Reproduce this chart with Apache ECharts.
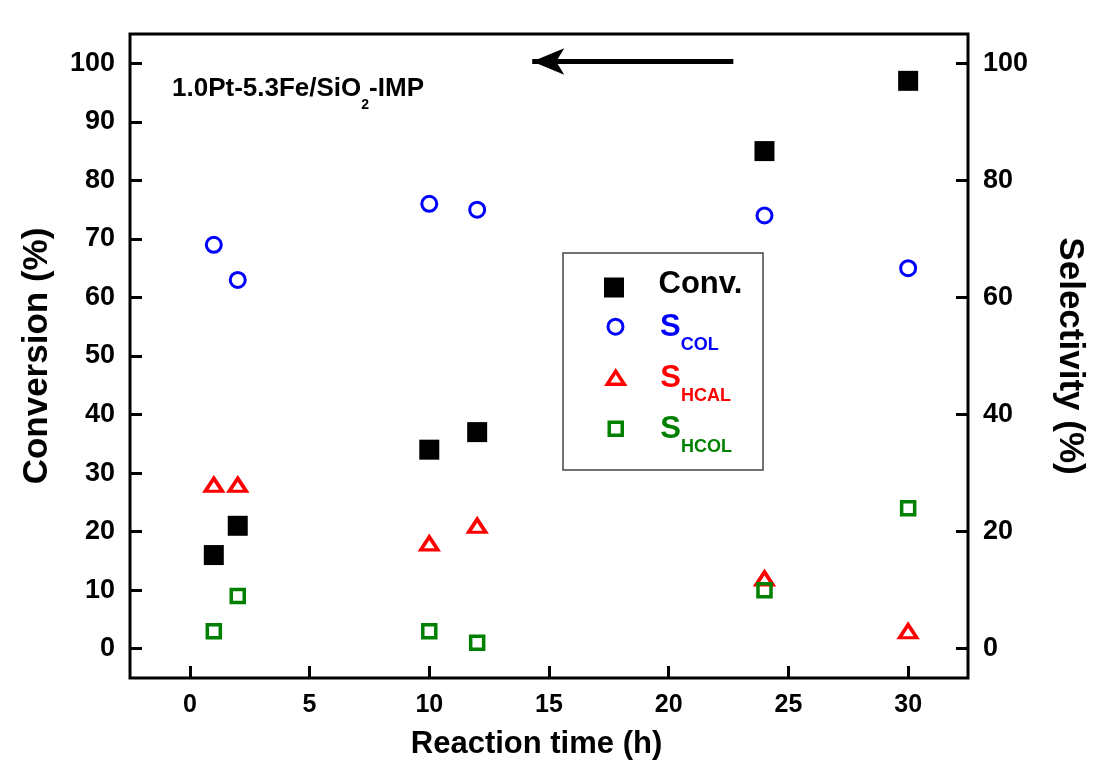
<!DOCTYPE html>
<html>
<head>
<meta charset="utf-8">
<script src="https://cdn.jsdelivr.net/npm/echarts@6/dist/echarts.min.js"></script>
<style>html,body{margin:0;padding:0;background:#fff;}#c{width:1100px;height:776px;}</style>
</head>
<body>
<div id="c"></div>
<script>
// ---- data ----
const timeH = [1, 2, 10, 12, 24, 30];
const conv = [16, 21, 34, 37, 85, 97];
const sCOL = [69, 63, 76, 75, 74, 65];
const sHCAL = [28, 28, 18, 21, 12, 3];
const sHCOL = [3, 9, 3, 1, 10, 24];
const xTicks = [0, 5, 10, 15, 20, 25, 30];
const yLeftTicks = [0, 10, 20, 30, 40, 50, 60, 70, 80, 90, 100];
const yRightTicks = [0, 20, 40, 60, 80, 100];
const arrowFrom = [22.7, 100.3];
const arrowTo = [14.3, 100.3];

const FONT = "'Liberation Sans', Arial, sans-serif";
const pairs = (ys) => timeH.map((t, i) => [t, ys[i]]);

const chart = echarts.init(document.getElementById('c'), null, {renderer: 'canvas'});

function subRich(color, padL) {
  return {
    s: {fontSize: 31, fontWeight: 'bold', fontFamily: FONT, color: color, verticalAlign: 'bottom', padding: [12, 0, 11, padL]},
    sub: {fontSize: 18, fontWeight: 'bold', fontFamily: FONT, color: color, verticalAlign: 'bottom'}
  };
}

const tickStyle = {color: '#000', width: 3};

const option = {
  animation: false,
  backgroundColor: '#fff',
  title: {
    left: 172, top: 76, padding: 0,
    text: '{a|1.0Pt-5.3Fe/SiO}{b|2}{a|-IMP}',
    textStyle: {
      rich: {
        a: {fontSize: 26, fontWeight: 'bold', fontFamily: FONT, color: '#000', verticalAlign: 'bottom', padding: [0, 0, 10, 0]},
        b: {fontSize: 14, fontWeight: 'bold', fontFamily: FONT, color: '#000', verticalAlign: 'bottom'}
      }
    }
  },
  grid: {left: 130, right: 132, top: 34, bottom: 98, show: true, borderColor: '#000', borderWidth: 3, backgroundColor: 'transparent'},
  xAxis: {
    type: 'value', min: -2.5, max: 32.5,
    name: 'Reaction time (h)', nameLocation: 'middle', nameGap: 51,
    nameTextStyle: {fontSize: 31, fontWeight: 'bold', fontFamily: FONT, color: '#000', padding: [0, 25, 0, 0]},
    axisLine: {show: false, onZero: false},
    splitLine: {show: false},
    axisTick: {show: true, inside: true, length: 12, lineStyle: tickStyle, customValues: xTicks},
    axisLabel: {fontSize: 25, fontWeight: 'bold', fontFamily: FONT, color: '#000', margin: 15, customValues: xTicks}
  },
  yAxis: [
    {
      type: 'value', min: -5, max: 105, position: 'left',
      name: 'Conversion (%)', nameLocation: 'middle', nameGap: 75,
      nameTextStyle: {fontSize: 35, fontWeight: 'bold', fontFamily: FONT, color: '#000'},
      axisLine: {show: false, onZero: false}, splitLine: {show: false},
      axisTick: {show: true, inside: true, length: 12, lineStyle: tickStyle, customValues: yLeftTicks},
      axisLabel: {fontSize: 27, fontWeight: 'bold', fontFamily: FONT, color: '#000', margin: 15, customValues: yLeftTicks}
    },
    {
      type: 'value', min: -5, max: 105, position: 'right',
      name: 'Selectivity (%)', nameLocation: 'middle', nameGap: 84, nameRotate: -90,
      nameTextStyle: {fontSize: 35, fontWeight: 'bold', fontFamily: FONT, color: '#000'},
      axisLine: {show: false, onZero: false}, splitLine: {show: false},
      axisTick: {show: true, inside: true, length: 12, lineStyle: tickStyle, customValues: yRightTicks},
      axisLabel: {fontSize: 27, fontWeight: 'bold', fontFamily: FONT, color: '#000', margin: 15, customValues: yRightTicks}
    }
  ],
  legend: [
    {
      selectedMode: false, padding: 0, left: 604, top: 269, itemWidth: 20, itemHeight: 20,
      data: [{name: 'Conv.', icon: 'rect', itemStyle: {color: '#000', borderWidth: 0, opacity: 1}}],
      formatter: () => '{c|Conv.}',
      textStyle: {color: '#000', rich: {c: {fontSize: 31, fontWeight: 'bold', fontFamily: FONT, color: '#000', padding: [0, 0, 6, 29.5]}}}
    },
    {
      selectedMode: false, padding: 0, left: 606.5, top: 311.7, itemWidth: 15, itemHeight: 15,
      data: [{name: 'S_COL', icon: 'circle', itemStyle: {color: 'rgba(255,255,255,0)', borderColor: '#0000ff', borderWidth: 3, opacity: 1}}],
      formatter: () => '{s|S}{sub|COL}',
      textStyle: {color: '#0000ff', rich: subRich('#0000ff', 32)}
    },
    {
      selectedMode: false, padding: 0, left: 605.5, top: 362.7, itemWidth: 17, itemHeight: 13,
      data: [{name: 'S_HCAL', icon: 'triangle', itemStyle: {color: 'rgba(255,255,255,0)', borderColor: '#ff0000', borderWidth: 3.5, opacity: 1}}],
      formatter: () => '{s|S}{sub|HCAL}',
      textStyle: {color: '#ff0000', rich: subRich('#ff0000', 31)}
    },
    {
      selectedMode: false, padding: 0, left: 607.5, top: 413.7, itemWidth: 13, itemHeight: 13,
      data: [{name: 'S_HCOL', icon: 'rect', itemStyle: {color: 'rgba(255,255,255,0)', borderColor: '#008000', borderWidth: 3.5, opacity: 1}}],
      formatter: () => '{s|S}{sub|HCOL}',
      textStyle: {color: '#008000', rich: subRich('#008000', 33)}
    }
  ],
  graphic: [
    {type: 'rect', silent: true, shape: {x: 563, y: 253, width: 200, height: 217}, style: {fill: 'none', stroke: '#444', lineWidth: 1.5}, z: 10}
  ],
  series: [
    {
      name: 'Conv.', type: 'scatter', yAxisIndex: 0, symbol: 'rect', symbolSize: 20,
      itemStyle: {color: '#000', opacity: 1}, emphasis: {disabled: true},
      data: pairs(conv),
      markLine: {
        silent: true, animation: false,
        symbol: ['none', 'arrow'], symbolSize: [20, 32],
        lineStyle: {color: '#000', width: 5, type: 'solid', opacity: 1},
        label: {show: false},
        data: [[{coord: arrowFrom}, {coord: arrowTo}]]
      }
    },
    {
      name: 'S_COL', type: 'scatter', yAxisIndex: 1, symbol: 'circle', symbolSize: 15,
      itemStyle: {color: 'rgba(255,255,255,0)', borderColor: '#0000ff', borderWidth: 3, opacity: 1}, emphasis: {disabled: true},
      data: pairs(sCOL)
    },
    {
      name: 'S_HCAL', type: 'scatter', yAxisIndex: 1, symbol: 'triangle', symbolSize: [17, 13],
      itemStyle: {color: 'rgba(255,255,255,0)', borderColor: '#ff0000', borderWidth: 3.5, opacity: 1}, emphasis: {disabled: true},
      data: pairs(sHCAL)
    },
    {
      name: 'S_HCOL', type: 'scatter', yAxisIndex: 1, symbol: 'rect', symbolSize: 13,
      itemStyle: {color: 'rgba(255,255,255,0)', borderColor: '#008000', borderWidth: 3.5, opacity: 1}, emphasis: {disabled: true},
      data: pairs(sHCOL)
    }
  ]
};
chart.setOption(option);
</script>
</body>
</html>
